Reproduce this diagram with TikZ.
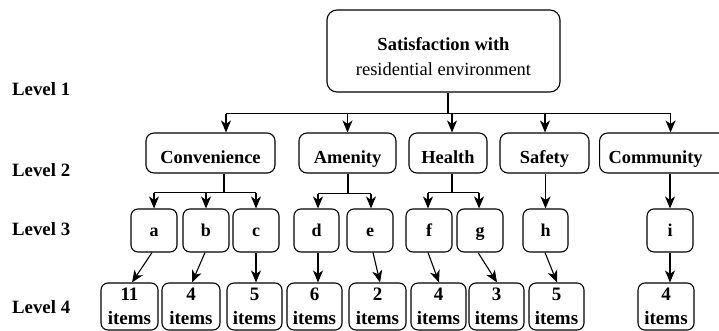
\documentclass[tikz,border=0pt]{standalone}
\usepackage{fontspec}
\setmainfont{Liberation Serif}
\usetikzlibrary{arrows.meta}

\begin{document}
\begin{tikzpicture}[x=1pt,y=-1pt,
  box/.style={draw, line width=1.1pt, rounded corners=8pt, inner sep=2pt},
  catbox/.style={box, minimum height=40pt, text height=21pt, text depth=0pt,
    font=\bfseries\fontsize{18.4}{22}\selectfont},
  subbox/.style={box, rounded corners=7pt, minimum width=46pt, minimum height=43pt,
    text height=12pt, text depth=0pt, font=\bfseries\fontsize{18}{22}\selectfont},
  itembox/.style={box, rounded corners=7pt, minimum height=47pt, align=center,
    font=\bfseries\fontsize{19}{24}\selectfont},
  levellabel/.style={anchor=west, inner sep=0pt, font=\bfseries\fontsize{18.8}{22}\selectfont},
  link/.style={line width=1.1pt},
  arrow/.style={link, -{Stealth[length=12pt,width=10pt,inset=3.5pt]}}
]
\useasboundingbox (0,0) rectangle (719,331);
\clip (0,0) rectangle (719,331);

% level captions
\node[levellabel] (L1) at (12,89)    {Level 1};
\node[levellabel] (L2) at (12,170)   {Level 2};
\node[levellabel] (L3) at (12,229.5) {Level 3};
\node[levellabel] (L4) at (12,307.5) {Level 4};

% level 1
\node[box, rounded corners=10pt, minimum width=233pt, minimum height=82pt, align=center,
      font=\fontsize{18.5}{25}\selectfont] (root) at (443.5,51)
  {\rule{0pt}{25pt}\textbf{Satisfaction with}\\residential environment};

% level 2
\node[catbox, minimum width=129pt] (conv) at (210.5,153) {Convenience};
\node[catbox, minimum width=97pt]  (amen) at (347.5,153) {Amenity};
\node[catbox, minimum width=78pt]  (heal) at (448,153)   {Health};
\node[catbox, minimum width=89pt]  (safe) at (544.5,153) {Safety};
\node[catbox, anchor=west, inner xsep=9pt, text width=122pt, align=left]
  (comm) at (599,153) {Community};

% level 3
\node[subbox] (a) at (154,230.5) {a};
\node[subbox] (b) at (206,230.5) {b};
\node[subbox] (c) at (256,230.5) {c};
\node[subbox, minimum width=45pt] (d) at (316.5,230.5) {d};
\node[subbox] (e) at (370,230.5) {e};
\node[subbox] (f) at (429,230.5) {f};
\node[subbox] (g) at (480,230.5) {g};
\node[subbox, minimum width=45pt] (h) at (545.5,230.5) {h};
\node[subbox] (i) at (670,230.5) {i};

% level 4
\node[itembox, minimum width=57pt] (n11) at (129.5,306.5) {11\\items};
\node[itembox, minimum width=58pt] (n4a) at (191,306.5)   {4\\items};
\node[itembox, minimum width=55pt] (n5a) at (254.5,306.5) {5\\items};
\node[itembox, minimum width=55pt] (n6)  at (314.5,306.5) {6\\items};
\node[itembox, minimum width=57pt] (n2)  at (377.5,306.5) {2\\items};
\node[itembox, minimum width=55pt] (n4b) at (438.5,306.5) {4\\items};
\node[itembox, minimum width=55pt] (n3)  at (496.5,306.5) {3\\items};
\node[itembox, minimum width=55pt] (n5b) at (556.5,306.5) {5\\items};
\node[itembox, minimum width=56pt] (n4c) at (666,306.5)   {4\\items};

% level 1 -> level 2
\coordinate (rj) at ([xshift=4.5pt,yshift=-21pt]root.south);
\draw[link] ([xshift=4.5pt]root.south) -- (rj);
\foreach \n/\dx in {conv/15.5, amen/0, heal/4, safe/0.5, comm/1} {
  \coordinate (t-\n) at ([xshift=\dx pt]\n.north);
  \draw[arrow] (rj -| t-\n) -- (t-\n);
}
\draw[link] (rj -| t-conv) -- (rj -| t-comm);

% Convenience -> a, b, c
\coordinate (cj) at ([xshift=13.5pt,yshift=-19pt]conv.south);
\draw[link] ([xshift=13.5pt]conv.south) -- (cj);
\draw[link] (cj -| a.north) -- (cj -| c.north);
\foreach \n in {a,b,c} \draw[arrow] (cj -| \n.north) -- (\n.north);

% Amenity -> d, e
\coordinate (aj) at ([xshift=0.5pt,yshift=-20pt]amen.south);
\coordinate (td) at ([xshift=1.5pt]d.north);
\coordinate (te) at ([xshift=1pt]e.north);
\draw[link] ([xshift=0.5pt]amen.south) -- (aj);
\draw[link] (aj -| td) -- (aj -| te);
\draw[arrow] (aj -| td) -- (td);
\draw[arrow] (aj -| te) -- (te);

% Health -> f, g
\coordinate (hj) at ([xshift=4pt,yshift=-19pt]heal.south);
\coordinate (tf) at ([xshift=-1pt]f.north);
\coordinate (tg) at ([xshift=-1pt]g.north);
\draw[link] ([xshift=4pt]heal.south) -- (hj);
\draw[link] (hj -| tf) -- (hj -| tg);
\draw[arrow] (hj -| tf) -- (tf);
\draw[arrow] (hj -| tg) -- (tg);

% Safety -> h, Community -> i
\draw[arrow] (h.north |- safe.south) -- (h.north);
\draw[arrow] (i.north |- comm.south) -- (i.north);

% level 3 -> level 4
\draw[arrow] ([xshift=-2pt]a.south) -- ([xshift=2.5pt]n11.north);
\draw[arrow] ([xshift=-1pt]b.south) -- ([xshift=1pt]n4a.north);
\draw[arrow] (c.south) -- (c.south |- n5a.north);
\draw[arrow] ([xshift=1.5pt]d.south) -- ([xshift=3.5pt]n6.north);
\draw[arrow] ([xshift=3pt]e.south) -- ([xshift=2.5pt]n2.north);
\draw[arrow] ([xshift=-1pt]f.south) -- ([xshift=0.5pt]n4b.north);
\draw[arrow] ([xshift=-2pt]g.south) -- ([xshift=0.5pt]n3.north);
\draw[arrow] ([xshift=-0.5pt]h.south) -- ([xshift=0.5pt]n5b.north);
\draw[arrow] (i.south) -- (i.south |- n4c.north);
\end{tikzpicture}
\end{document}
